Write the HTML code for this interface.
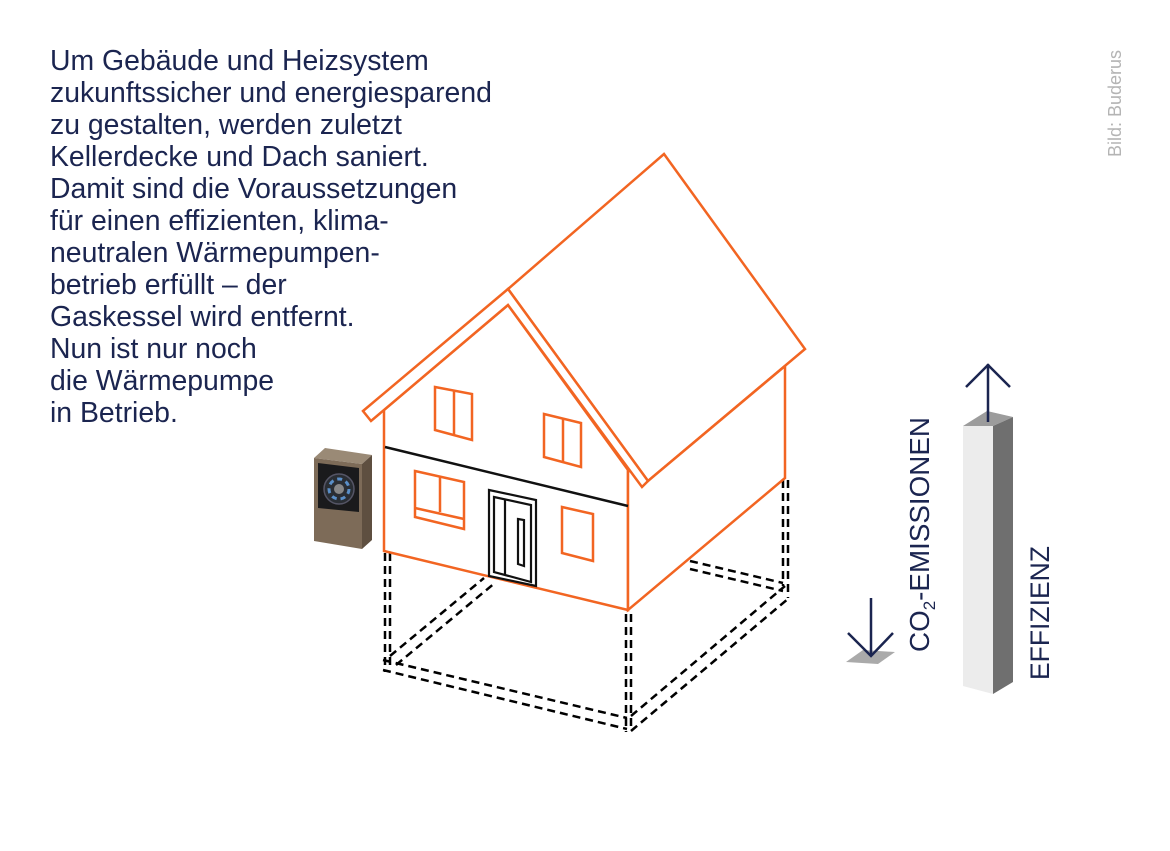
<!DOCTYPE html>
<html><head><meta charset="utf-8"><style>
html,body{margin:0;padding:0;background:#fff;}
body{width:1170px;height:851px;overflow:hidden;position:relative;font-family:"Liberation Sans",sans-serif;}
.txt{position:absolute;left:50px;top:45px;font-size:28.4px;line-height:32px;color:#1b2550;white-space:pre;}
</style></head><body>
<div class="txt">Um Gebäude und Heizsystem
zukunftssicher und energiesparend
zu gestalten, werden zuletzt
Kellerdecke und Dach saniert.
Damit sind die Voraussetzungen
für einen effizienten, klima-
neutralen Wärmepumpen-
betrieb erfüllt – der
Gaskessel wird entfernt.
Nun ist nur noch
die Wärmepumpe
in Betrieb.</div>
<svg width="1170" height="851" style="position:absolute;left:0;top:0" xmlns="http://www.w3.org/2000/svg">
<g fill="none" stroke="#000" stroke-width="2.5" stroke-dasharray="8,5">
<line x1="385" y1="553" x2="385" y2="672"/><line x1="390" y1="553" x2="390" y2="668"/>
<line x1="383" y1="660" x2="627" y2="718"/><line x1="383" y1="670" x2="627" y2="729"/>
<line x1="626" y1="614" x2="626" y2="732"/><line x1="631" y1="614" x2="631" y2="728"/>
<line x1="631" y1="716" x2="785" y2="586"/><line x1="631" y1="731" x2="789" y2="598"/>
<line x1="783" y1="480" x2="783" y2="586"/><line x1="788" y1="480" x2="788" y2="598"/>
<line x1="690" y1="561" x2="783" y2="583"/><line x1="690" y1="569" x2="783" y2="591"/>
<line x1="390" y1="656" x2="484" y2="578"/><line x1="396" y1="665" x2="496" y2="582"/>
</g>
<g fill="#fff" stroke="#f26522" stroke-width="2.5" stroke-linejoin="miter">
<polygon points="508,289 664,154 805,349 648,481"/>
<polygon points="384,410 508,305 628,470 628,610 384,551"/>
<polygon points="628,470 648,481 785,366 785,478 628,610"/>
<polygon points="363,411 508,289 648,481 642,487 508,305 371,421"/>
</g>
<g fill="none" stroke="#f26522" stroke-width="2.5">
<polygon points="435,387 472,394 472,440 435,430"/><line x1="454" y1="390" x2="454" y2="435"/>
<polygon points="544,414 581,423 581,467 544,457"/><line x1="563" y1="418" x2="563" y2="462"/>
<polygon points="415,471 464,482 464,529 415,517"/><line x1="440" y1="477" x2="440" y2="512"/><line x1="415" y1="508" x2="464" y2="519"/>
<polygon points="562,507 593,514 593,561 562,553"/>
</g>
<line x1="385" y1="447" x2="628" y2="506" stroke="#111" stroke-width="2.5"/>
<g fill="#fff" stroke="#111" stroke-width="2.2">
<polygon points="489,490 536,500 536,586 489,576"/>
<polygon points="494,497 531,505 531,582 494,572"/>
<line x1="505" y1="500" x2="505" y2="575"/>
<polygon points="518,519 524,520 524,566 518,564"/>
</g>
<polygon points="314,458 325,448 372,455 362,464" fill="#9a8a76"/>
<polygon points="362,464 372,455 372,540 362,549" fill="#5e4f40"/>
<polygon points="314,458 362,464 362,549 314,541" fill="#7d6b58"/>
<polygon points="318,463 359,468 359,512 318,508" fill="#1a1a1c"/>
<circle cx="339" cy="489" r="15" fill="#2a2e34" stroke="#556" stroke-width="1.5"/>
<circle cx="339" cy="489" r="10" fill="none" stroke="#5a8fc8" stroke-width="3" stroke-dasharray="5,4"/>
<circle cx="339" cy="489" r="5" fill="#888"/>
<polygon points="846,662 863,650 895,652 878,664" fill="#aaa"/>
<g stroke="#1b2550" stroke-width="2.5" fill="none">
<line x1="871" y1="598" x2="871" y2="656"/><polyline points="848,633 871,656 893,633"/>
</g>
<polygon points="963,426 987,411 1013,417 993,426" fill="#9c9c9c"/>
<polygon points="993,426 1013,417 1013,682 993,694" fill="#6f6f6f"/>
<polygon points="963,426 993,426 993,694 963,686" fill="#ececec"/>
<g stroke="#1b2550" stroke-width="2.5" fill="none">
<line x1="988" y1="364" x2="988" y2="422"/><polyline points="966,387 988,365 1010,387"/>
</g>
<text transform="translate(929,652) rotate(-90)" font-family="Liberation Sans,sans-serif" font-size="27.8" fill="#1b2550">CO<tspan font-size="17" dy="6">2</tspan><tspan dy="-6">-EMISSIONEN</tspan></text>
<text transform="translate(1049,680) rotate(-90)" font-family="Liberation Sans,sans-serif" font-size="26.5" fill="#1b2550">EFFIZIENZ</text>
<text transform="translate(1121,157) rotate(-90)" font-family="Liberation Sans,sans-serif" font-size="18" fill="#b4b4b4">Bild: Buderus</text>
</svg>
</body></html>
